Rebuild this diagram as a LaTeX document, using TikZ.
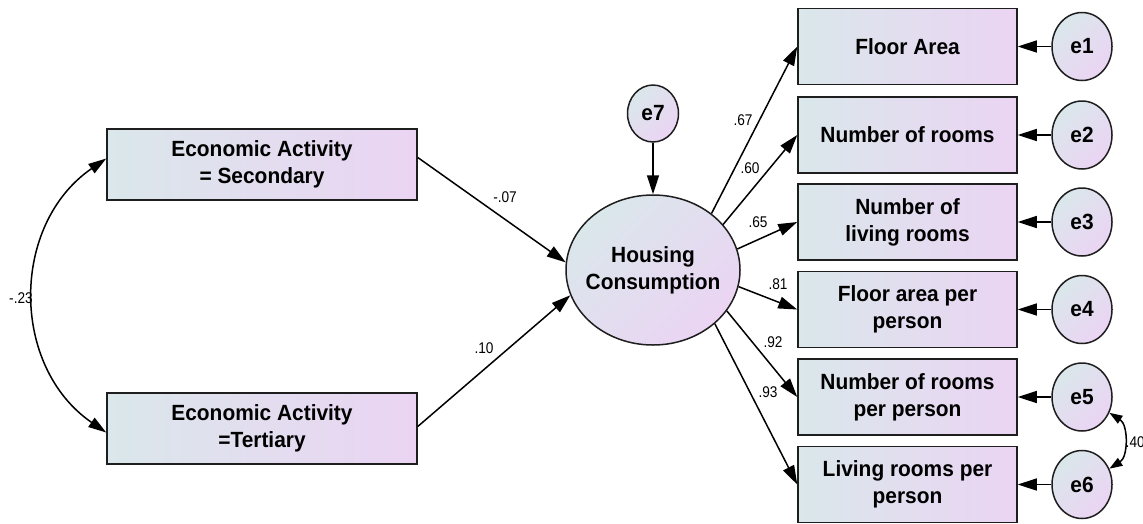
\documentclass[tikz,border=0pt]{standalone}
\usepackage{fontspec}
\setmainfont{Liberation Sans}[FakeStretch=0.95]
\newfontfamily\lblfont{Liberation Sans}[FakeStretch=0.88]
\usetikzlibrary{arrows.meta,shapes.geometric,calc}
\definecolor{fillL}{RGB}{218,231,235}
\definecolor{fillR}{RGB}{235,212,243}
\definecolor{edge}{RGB}{30,30,30}

\begin{document}
\begin{tikzpicture}[x=1pt,y=-1pt,
  obsbox/.style={rectangle, draw=edge, line width=1.5pt, left color=fillL, right color=fillR,
    minimum width=219pt, minimum height=76pt, inner sep=0pt, align=center,
    font=\bfseries\fontsize{22}{27}\selectfont},
  widebox/.style={obsbox, minimum width=310pt, minimum height=71pt},
  latent/.style={ellipse, draw=edge, line width=1.5pt, top color=fillL, bottom color=fillR,
    shading angle=45, inner xsep=-11pt, inner ysep=0pt, minimum width=174pt, minimum height=150pt,
    align=center, font=\bfseries\fontsize{22}{27}\selectfont},
  errnode/.style={ellipse, draw=edge, line width=1.5pt, top color=fillL, bottom color=fillR,
    shading angle=45, inner sep=0pt, minimum width=60pt, minimum height=68pt,
    font=\bfseries\fontsize{22}{26}\selectfont},
  path/.style={line width=1.5pt, -{Triangle[length=19pt,width=12pt]}},
  cov/.style={line width=1.5pt, {Triangle[length=18pt,width=11pt]}-{Triangle[length=18pt,width=11pt]}},
  smallcov/.style={line width=1.5pt, {Triangle[length=13pt,width=9pt]}-{Triangle[length=13pt,width=9pt]}},
  coef/.style={font=\lblfont\fontsize{15.5}{18}\selectfont, inner sep=1pt}
]
\fill[white] (0,0) rectangle (1143,523);
\useasboundingbox (0,0) rectangle (1143,523);

% exogenous observed variables
\node[widebox] (sec) at (262,164.5) {Economic Activity\\= Secondary};
\node[widebox] (ter) at (262,428.5) {Economic Activity\\=Tertiary};

% latent variable and its disturbance
\node[latent] (hc) at (653,270) {Housing\\Consumption};
\node[errnode, minimum width=51pt, minimum height=57pt] (e7) at (653,113.5) {e7};

% indicators
\node[obsbox] (o1) at (907.5,46.5) {Floor Area};
\node[obsbox] (o2) at (907.5,135) {Number of rooms};
\node[obsbox] (o3) at (907.5,222) {Number of\\living rooms};
\node[obsbox] (o4) at (907.5,309.5) {Floor area per\\person};
\node[obsbox] (o5) at (907.5,397) {Number of rooms\\per person};
\node[obsbox] (o6) at (907.5,484.5) {Living rooms per\\person};

% measurement errors
\node[errnode] (e1) at (1082,46.5) {e1};
\node[errnode] (e2) at (1082,135) {e2};
\node[errnode] (e3) at (1082,222) {e3};
\node[errnode] (e4) at (1082,309.5) {e4};
\node[errnode] (e5) at (1082,397) {e5};
\node[errnode] (e6) at (1082,484.5) {e6};

% structural paths
\draw[path] ($(sec.east)+(0,-7)$) -- (hc.175);
\draw[path] ($(ter.east)+(0,-2)$) -- (hc.197);
\draw[path] (e7) -- (hc);

% loadings
\draw[path] (hc.44) -- (o1.west);
\draw[path] (hc.33) -- (o2.west);
\draw[path] (hc.14) -- (o3.west);
\draw[path] (hc.-11) -- (o4.west);
\draw[path] (hc.-29) -- (o5.west);
\draw[path] (hc.-41) -- (o6.west);

% error paths
\draw[path] (e1) -- (o1);
\draw[path] (e2) -- (o2);
\draw[path] (e3) -- (o3);
\draw[path] (e4) -- (o4);
\draw[path] (e5) -- (o5);
\draw[path] (e6) -- (o6);

% covariances
\draw[cov] ($(sec.west)+(0,-6)$) .. controls +(-96,66) and +(-96,-66) .. ($(ter.west)+(0,4)$);
\draw[smallcov] (e5.-30) .. controls +(19,12) and +(19,-12) .. (e6.30);

% coefficients
\node[coef] (c1) at (505,197) {-.07};
\node[coef] (c2) at (484,348) {.10};
\node[coef] (c3) at (21,298) {-.23};
\node[coef] (c4) at (743,120) {.67};
\node[coef] (c5) at (750,168) {.60};
\node[coef] (c6) at (758,222) {.65};
\node[coef] (c7) at (778,284) {.81};
\node[coef] (c8) at (773,342) {.92};
\node[coef] (c9) at (768,392) {.93};
\node[coef, anchor=west, inner sep=0pt] (c10) at (1125.5,442) {.40};
\end{tikzpicture}
\end{document}
